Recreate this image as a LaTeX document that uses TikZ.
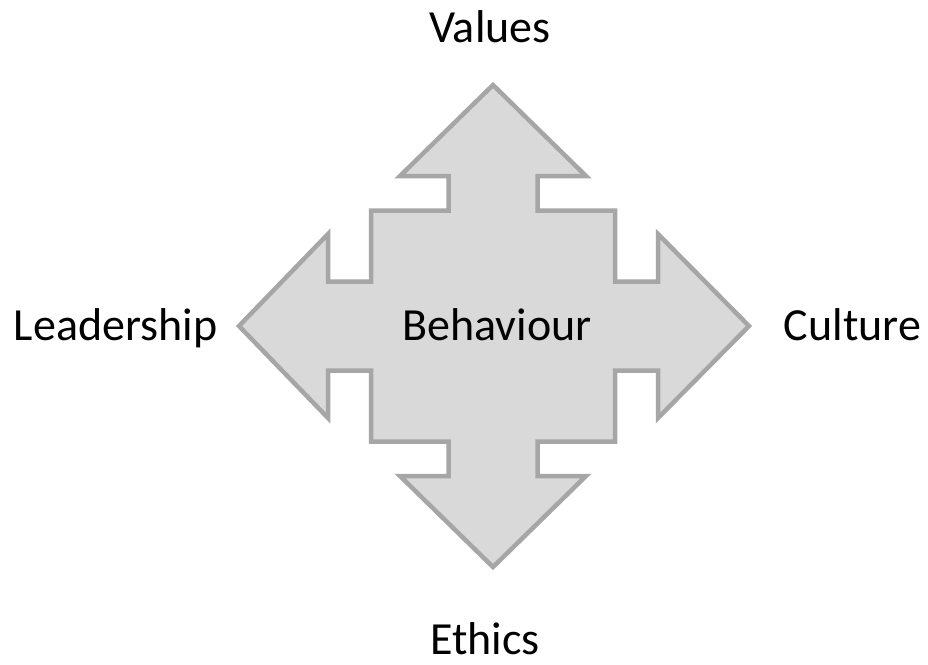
\documentclass[tikz,border=0pt]{standalone}
\usepackage{fontspec}
\setmainfont{Carlito}
\usepackage{tikz}
\definecolor{arrowfill}{HTML}{D9D9D9}
\definecolor{arrowline}{HTML}{A6A6A6}
\tikzstyle{Label}=[anchor=base, inner sep=0pt, text=black, font=\fontsize{46}{55}\selectfont]
\tikzstyle{Cross}=[fill=arrowfill, draw=arrowline, line width=4.5pt, line join=miter]

\begin{document}
\begin{tikzpicture}[x=1pt, y=-1pt]
	\useasboundingbox (0, 0) rectangle (928, 664);
	% four-way arrow
	\draw [style=Cross] (493, 85) -- (586, 176) -- (537.5, 176) -- (537.5, 210.5)
		-- (615, 210.5) -- (615, 281.5) -- (658, 281.5) -- (658, 234)
		-- (749, 326) -- (658, 418) -- (658, 370.5) -- (615, 370.5)
		-- (615, 441.5) -- (537.5, 441.5) -- (537.5, 476) -- (586, 476)
		-- (493, 567) -- (400, 476) -- (448.5, 476) -- (448.5, 441.5)
		-- (371, 441.5) -- (371, 370.5) -- (328, 370.5) -- (328, 418)
		-- (239, 326) -- (328, 234) -- (328, 281.5) -- (371, 281.5)
		-- (371, 210.5) -- (448.5, 210.5) -- (448.5, 176) -- (400, 176) -- cycle;
	\node [style=Label] (behaviour) at (497, 340) {Behaviour};
	\node [style=Label] (values) at (490, 42) {Values};
	\node [style=Label] (leadership) at (115.5, 340) {Leadership};
	\node [style=Label] (culture) at (852.5, 340) {Culture};
	\node [style=Label, text depth=0pt] (ethics) at (485, 654) {Ethics};
\end{tikzpicture}
\end{document}
